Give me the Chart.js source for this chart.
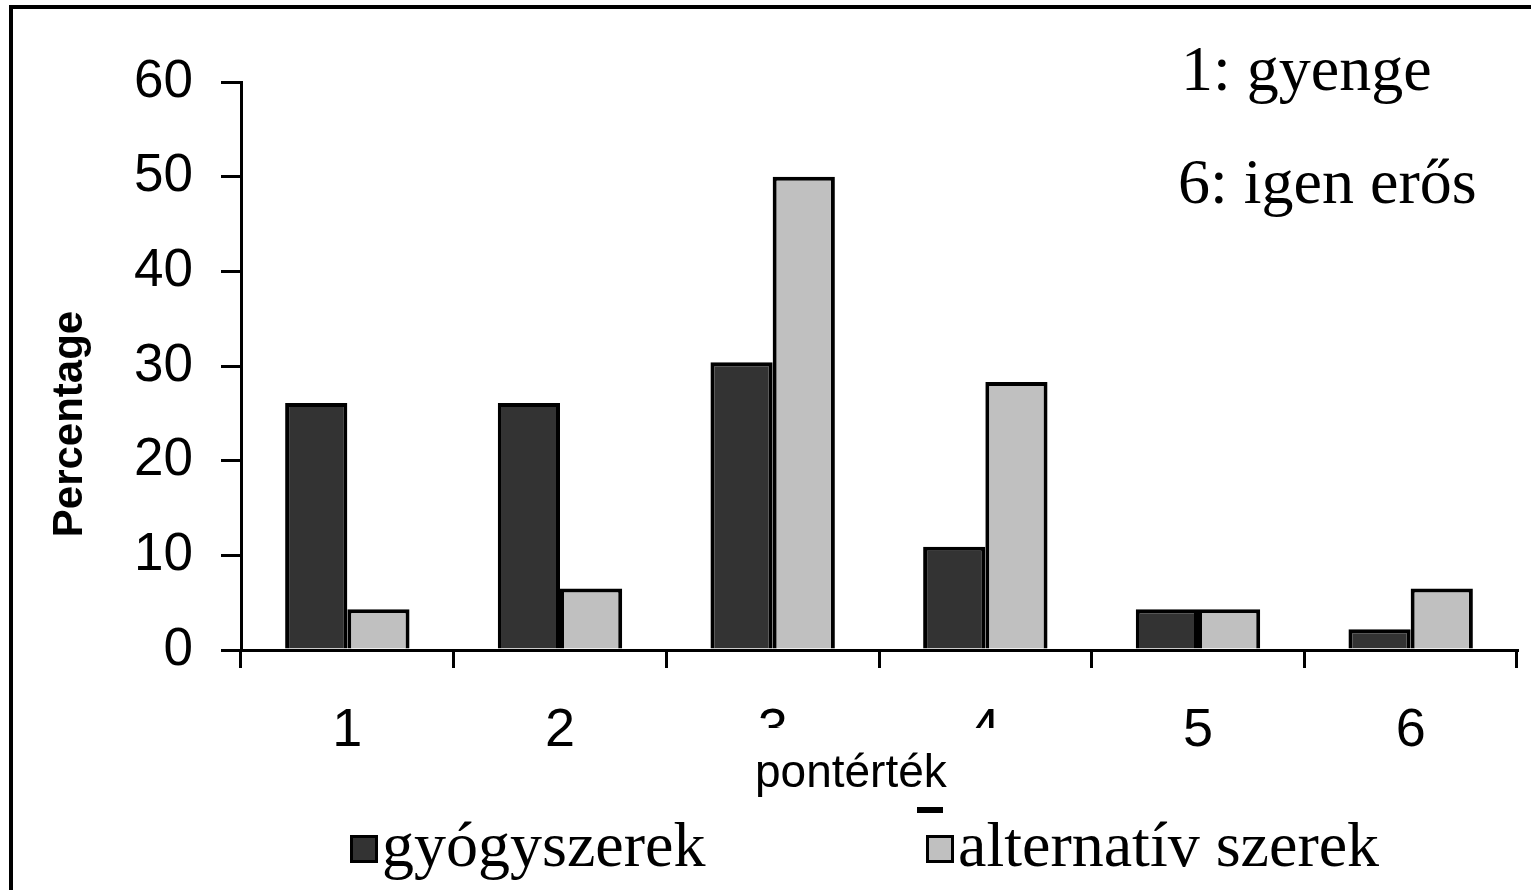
<!DOCTYPE html>
<html>
<head>
<meta charset="utf-8">
<script src="https://cdn.jsdelivr.net/npm/chart.js@4/dist/chart.umd.min.js"></script>
<style>
html,body{margin:0;padding:0;background:#fff;}
canvas{display:block;}
</style>
</head>
<body>
<canvas id="c" width="1531" height="890"></canvas>
<script>
const categories = ['1', '2', '3', '4', '5', '6'];
const gyogyszerek = [26.1, 26.1, 30.4, 10.9, 4.3, 2.2];
const alternativ = [4.3, 6.5, 50, 28.3, 4.3, 6.5];
const seriesNames = ['gyógyszerek', 'alternatív szerek'];
const yTicks = [0, 10, 20, 30, 40, 50, 60];
const xTitle = 'pontérték';
const yTitle = 'Percentage';
const notes = ['1: gyenge', '6: igen erős'];

const SANS = '"Liberation Sans", Arial, sans-serif';
const SERIF = '"Liberation Serif", "Times New Roman", serif';

const decor = {
  id: 'decor',
  afterDraw(chart) {
    const ctx = chart.ctx;
    ctx.save();
    // outer frame (left & top visible)
    ctx.fillStyle = '#000';
    ctx.fillRect(9, 5, 4, 885);
    ctx.fillRect(9, 5, 1522, 4);
    // white box behind x title (covers lower part of labels 3 and 4)
    ctx.fillStyle = '#fff';
    ctx.fillRect(742, 728, 258, 78);
    ctx.fillStyle = '#000';
    ctx.fillRect(917, 807, 26, 6);
    // x title
    ctx.fillStyle = '#000';
    ctx.font = '46px ' + SANS;
    ctx.textAlign = 'left';
    ctx.textBaseline = 'alphabetic';
    ctx.fillText(xTitle, 755, 787);
    // y title
    ctx.save();
    ctx.translate(82, 424);
    ctx.rotate(-Math.PI / 2);
    ctx.font = 'bold 42px ' + SANS;
    ctx.textAlign = 'center';
    ctx.fillText(yTitle, 0, 0);
    ctx.restore();
    // notes
    ctx.font = '64px ' + SERIF;
    ctx.textAlign = 'left';
    ctx.fillText(notes[0], 1181, 90);
    ctx.fillText(notes[1], 1178, 203);
    // legend
    const items = [{x: 350, tx: 382}, {x: 926, tx: 958}];
    chart.data.datasets.forEach((ds, i) => {
      const it = items[i];
      ctx.fillStyle = ds.backgroundColor;
      ctx.fillRect(it.x + 1.5, 836.5, 25, 25);
      ctx.strokeStyle = '#000';
      ctx.lineWidth = 3;
      ctx.strokeRect(it.x + 1.5, 836.5, 25, 25);
      ctx.fillStyle = '#000';
      ctx.font = '64px ' + SERIF;
      ctx.fillText(ds.label, it.tx, 866);
    });
    ctx.restore();
  }
};

new Chart(document.getElementById('c'), {
  type: 'bar',
  data: {
    labels: categories,
    datasets: [
      { label: seriesNames[0], data: gyogyszerek, backgroundColor: '#333333', borderColor: '#000', borderWidth: 4 },
      { label: seriesNames[1], data: alternativ, backgroundColor: '#c0c0c0', borderColor: '#000', borderWidth: 4 }
    ]
  },
  options: {
    responsive: false,
    animation: false,
    devicePixelRatio: 1,
    layout: { padding: { top: 82, right: 14, left: 0, bottom: 0 } },
    plugins: { legend: { display: false }, tooltip: { enabled: false }, title: { display: false } },
    datasets: { bar: { categoryPercentage: 0.585, barPercentage: 1.0 } },
    scales: {
      x: {
        type: 'category',
        offset: true,
        afterFit(s) { s.height = 240; },
        grid: { display: true, offset: true, drawOnChartArea: false, drawTicks: true, tickLength: 18, color: '#000', lineWidth: 3 },
        border: { display: true, color: '#000', width: 3 },
        ticks: { color: '#000', font: { family: SANS, size: 54 }, padding: 31, maxRotation: 0, autoSkip: false }
      },
      y: {
        min: 0, max: 60,
        afterFit(s) { s.width = 241; },
        afterBuildTicks(s) { s.ticks = yTicks.map(v => ({ value: v })); },
        grid: { display: true, drawOnChartArea: false, drawTicks: true, tickLength: 20, color: '#000', lineWidth: 3 },
        border: { display: true, color: '#000', width: 3 },
        ticks: { color: '#000', font: { family: SANS, size: 53 }, padding: 28 }
      }
    }
  },
  plugins: [decor]
});
</script>
</body>
</html>
